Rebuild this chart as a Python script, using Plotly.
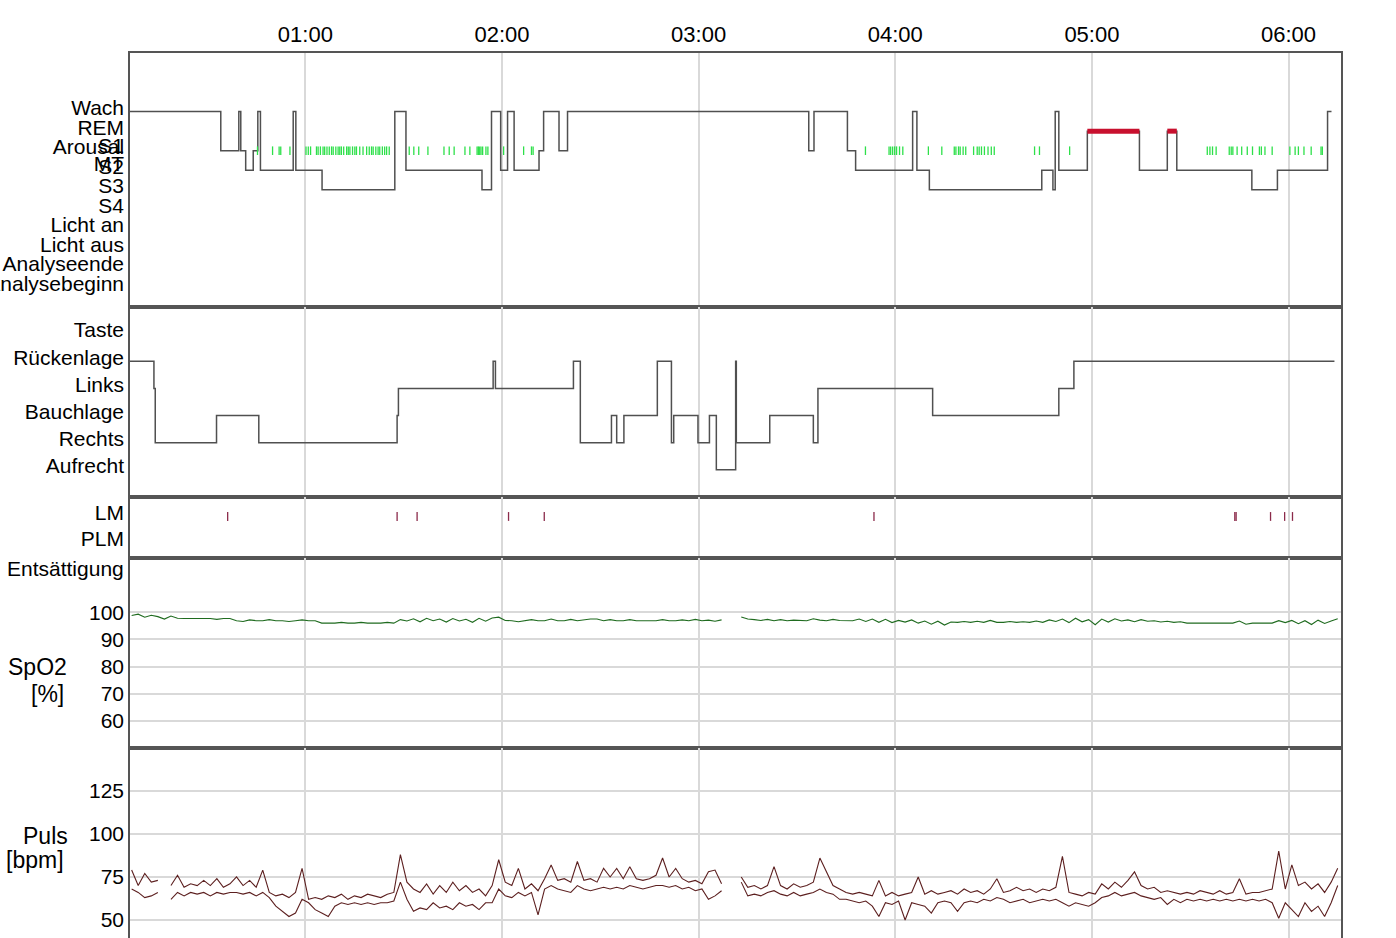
import plotly.graph_objects as go
from plotly.subplots import make_subplots

FONT = "Liberation Sans, Arial, sans-serif"

# ---------------- data (times in minutes after 00:00) ----------------
x_range = [6.5, 376.0]
hour_ticks = [60, 120, 180, 240, 300, 360]
hour_labels = ["01:00", "02:00", "03:00", "04:00", "05:00", "06:00"]

# Hypnogram (transition times and stages)
hyp_t = [6.5, 34.2, 39.7, 40.3, 41.8, 44.1, 45.5, 46.3, 56.3, 57.1, 65.1, 87.3, 90.7,
         113.9, 116.8, 119.6, 121.7, 123.7, 131.3, 132.7, 137.4, 140.0, 213.6, 215.2,
         225.4, 227.9, 245.3, 246.6, 250.4, 284.7, 288.1, 288.8, 289.9, 298.6, 314.5,
         323.0, 325.9, 348.8, 356.6, 371.9, 373.1]
hyp_stage = ["Wach", "S1", "Wach", "S1", "S2", "S1", "Wach", "S2", "Wach", "S2", "S3", "Wach", "S2",
             "S3", "Wach", "S2", "Wach", "S2", "S1", "Wach", "S1", "Wach", "S1", "Wach",
             "S1", "S2", "Wach", "S2", "S3", "S2", "S3", "Wach", "S2", "REM", "S2",
             "REM", "S2", "S3", "S2", "Wach", "Wach"]
hyp_categories = ["Wach", "REM", "S1", "Arousal", "S2", "MT", "S3", "S4",
                  "Licht an", "Licht aus", "Analyseende", "Analysebeginn"]

arousal_t = [45.4, 50.0, 52.0, 52.5, 55.3, 60.2, 60.9, 61.6, 63.4, 63.9, 64.6, 65.4, 65.9,
             66.6, 67.3, 68.0, 68.5, 69.3, 70.0, 70.5, 71.0, 71.7, 72.6, 73.1, 73.6, 74.4,
             75.1, 75.6, 76.6, 77.6, 78.7, 79.5, 80.2, 80.7, 81.5, 82.2, 82.7, 83.5, 84.2,
             84.8, 85.6, 91.7, 93.1, 94.6, 97.4, 102.3, 103.9, 105.4, 108.7, 110.2, 112.4,
             112.8, 113.2, 113.6, 114.1, 115.1, 115.7, 120.5, 126.6, 129.0, 129.5, 230.9,
             238.1, 238.6, 239.2, 239.8, 240.4, 241.3, 242.3, 250.1, 254.2, 258.0, 258.5,
             259.3, 259.8, 260.7, 261.5, 263.9, 265.0, 265.6, 266.3, 267.2, 268.3, 269.3,
             270.2, 282.5, 284.0, 293.2, 335.2, 336.0, 336.8, 337.9, 341.9, 342.5, 343.0,
             344.3, 345.7, 347.4, 349.0, 351.1, 351.7, 352.8, 355.0, 360.4, 362.0, 363.0,
             364.7, 366.9, 369.9, 370.3]

# Body position
pos_t = [6.5, 13.8, 14.2, 32.9, 45.8, 88.0, 88.4, 117.3, 118.0, 141.8, 143.9, 153.4, 155.0,
         157.2, 167.4, 171.7, 172.4, 179.8, 183.3, 185.4, 191.3, 191.5, 201.7, 215.0, 216.4,
         251.4, 289.9, 294.5, 374.0]
pos_stage = ["Rückenlage", "Links", "Rechts", "Bauchlage", "Rechts", "Bauchlage", "Links",
             "Rückenlage", "Links", "Rückenlage", "Rechts", "Bauchlage", "Rechts", "Bauchlage",
             "Rückenlage", "Rechts", "Bauchlage", "Rechts", "Bauchlage", "Aufrecht",
             "Rückenlage", "Rechts", "Bauchlage", "Rechts", "Links", "Bauchlage", "Links",
             "Rückenlage", "Rückenlage"]
pos_categories = ["Taste", "Rückenlage", "Links", "Bauchlage", "Rechts", "Aufrecht"]

# Leg movements
lm_t = [36.3, 88.0, 94.1, 122.0, 132.9, 233.5, 343.6, 344.0, 354.5, 358.8, 361.2]
lm_categories = ["LM", "PLM"]

# SpO2 and pulse sampled every 2 minutes from 00:07 to 06:15
sample_t = list(range(7, 376, 2))
spo2 = [98.8, 99.3, 98.2, 98.9, 98.4, 97.5, 98.6, 97.8, 97.7, 97.7,
        97.8, 97.7, 97.7, 97.4, 97.7, 97.7, 96.9, 96.6, 97.2, 96.9,
        96.9, 97.3, 96.9, 96.9, 96.6, 96.9, 97.2, 96.9, 96.9, 96.0,
        96.0, 96.0, 96.3, 96.0, 96.0, 96.3, 96.0, 96.0, 96.0, 96.3,
        96.0, 97.3, 96.8, 97.6, 96.5, 97.8, 96.9, 97.5, 96.4, 97.7,
        96.8, 97.4, 96.3, 97.8, 96.7, 97.9, 98.2, 97.0, 96.9, 96.5,
        96.9, 97.3, 96.9, 96.9, 97.5, 96.9, 96.9, 97.4, 96.9, 97.2,
        97.5, 97.5, 96.9, 97.3, 96.9, 96.9, 97.3, 96.9, 96.9, 97.1,
        96.9, 97.3, 96.9, 96.9, 97.2, 96.9, 97.4, 96.9, 97.1, 96.7,
        97.2, None, None, 98.3, 97.5, 97.3, 97.0, 97.4, 96.9, 97.3,
        96.9, 97.1, 96.9, 96.9, 97.6, 97.1, 96.9, 97.4, 97.0, 96.9,
        96.9, 97.5, 96.6, 97.5, 96.3, 97.4, 96.2, 97.0, 96.4, 97.2,
        96.0, 96.8, 95.6, 96.7, 95.3, 96.4, 96.3, 96.6, 96.3, 96.7,
        96.3, 97.0, 96.3, 96.3, 96.6, 96.3, 96.5, 96.3, 96.8, 96.3,
        97.2, 96.6, 97.5, 96.2, 97.8, 96.5, 97.3, 95.4, 97.5, 96.4,
        97.6, 96.8, 97.2, 96.5, 97.3, 96.7, 96.9, 96.4, 96.7, 96.3,
        96.5, 96.0, 96.0, 96.0, 96.0, 96.0, 96.0, 96.0, 96.0, 96.8,
        95.6, 96.0, 96.0, 96.0, 96.0, 96.9, 96.2, 97.0, 95.8, 96.9,
        95.5, 97.1, 95.9, 96.8, 97.6]
pulse_hi = [79, 70, 77, 72, 73, None, 70, 76, 69, 71,
            70, 73, 70, 74, 69, 71, 75, 70, 73, 69,
            79, 66, 64, 65, 63, 66, 80, 62, 63, 62,
            64, 63, 65, 62, 64, 63, 65, 64, 63, 65,
            66, 88, 72, 68, 66, 71, 65, 70, 66, 72,
            67, 70, 66, 68, 64, 70, 85, 72, 70, 80,
            68, 71, 67, 74, 82, 73, 74, 72, 84, 73,
            74, 72, 80, 75, 80, 74, 81, 74, 73, 74,
            76, 86, 75, 80, 74, 72, 73, 71, 78, 79,
            71, None, None, 75, 69, 70, 68, 70, 81, 70,
            68, 71, 69, 70, 72, 86, 78, 70, 68, 66,
            65, 66, 65, 64, 73, 64, 66, 64, 65, 66,
            75, 65, 67, 65, 66, 67, 65, 68, 66, 67,
            65, 68, 74, 66, 67, 69, 67, 68, 66, 68,
            67, 69, 87, 66, 65, 64, 66, 65, 71, 68,
            72, 69, 73, 78, 70, 68, 69, 66, 67, 66,
            65, 66, 65, 67, 66, 65, 67, 65, 66, 74,
            65, 66, 66, 67, 68, 90, 68, 82, 70, 72,
            68, 71, 66, 72, 80]
pulse_lo = [68, 66, 63, 64, 66, None, 62, 66, 64, 66,
            65, 66, 64, 66, 65, 66, 66, 65, 66, 64,
            66, 63, 58, 55, 52, 54, 62, 60, 56, 54,
            52, 58, 60, 59, 60, 59, 60, 59, 60, 60,
            61, 72, 62, 55, 57, 56, 60, 57, 58, 56,
            60, 58, 59, 56, 60, 60, 68, 64, 63, 66,
            64, 66, 53, 68, 70, 68, 67, 66, 70, 68,
            67, 68, 69, 68, 69, 68, 70, 69, 68, 69,
            70, 70, 69, 70, 68, 69, 67, 68, 62, 64,
            67, None, None, 72, 64, 65, 64, 66, 67, 65,
            64, 66, 64, 65, 66, 68, 66, 65, 62, 62,
            61, 60, 61, 58, 52, 60, 59, 61, 50, 60,
            59, 58, 54, 60, 61, 60, 55, 60, 61, 60,
            62, 61, 63, 62, 60, 61, 62, 60, 61, 62,
            61, 62, 60, 58, 60, 59, 58, 60, 63, 64,
            66, 64, 65, 66, 64, 63, 62, 63, 59, 62,
            60, 62, 61, 62, 61, 62, 61, 62, 61, 62,
            61, 62, 61, 62, 60, 51, 60, 56, 52, 60,
            55, 58, 52, 60, 70]

# ---------------- mapping categories to axis levels ----------------
hyp_level = {"Wach": 10, "REM": 9, "S1": 8.08, "Arousal": 8, "S2": 7, "MT": 7.12, "S3": 6,
             "S4": 5, "Licht an": 4, "Licht aus": 3, "Analyseende": 2, "Analysebeginn": 1}
pos_level = {c: 6 - i for i, c in enumerate(pos_categories)}
lm_level = {"LM": 2, "PLM": 1}

LINE = "#505050"
GRID = "#d9d9d9"
BORDER = "#555555"

fig = make_subplots(rows=5, cols=1, shared_xaxes=True, vertical_spacing=0,
                    row_heights=[254, 190, 61, 190, 190])

# Hypnogram
fig.add_trace(go.Scatter(x=hyp_t, y=[round(hyp_level[s]) for s in hyp_stage], mode="lines",
                         line=dict(color=LINE, width=1.5, shape="hv")), row=1, col=1)
rx, ry = [], []
for i, s in enumerate(hyp_stage[:-1]):
    if s == "REM":
        rx += [hyp_t[i], hyp_t[i + 1], None]
        ry += [hyp_level["REM"], hyp_level["REM"], None]
fig.add_trace(go.Scatter(x=rx, y=ry, mode="lines", line=dict(color="#c8102e", width=5)),
              row=1, col=1)
ax, ay = [], []
for t in arousal_t:
    ax += [t, t, None]
    ay += [hyp_level["Arousal"] - 0.22, hyp_level["Arousal"] + 0.22, None]
fig.add_trace(go.Scatter(x=ax, y=ay, mode="lines", line=dict(color="#2ee04a", width=1.3)),
              row=1, col=1)

# Position
fig.add_trace(go.Scatter(x=pos_t, y=[pos_level[s] for s in pos_stage], mode="lines",
                         line=dict(color=LINE, width=1.5, shape="hv")), row=2, col=1)

# LM
lx, ly = [], []
for t in lm_t:
    lx += [t, t, None]
    ly += [lm_level["LM"] - 0.32, lm_level["LM"] + 0.02, None]
fig.add_trace(go.Scatter(x=lx, y=ly, mode="lines", line=dict(color="#8b2a4a", width=1.3)),
              row=3, col=1)

# SpO2
fig.add_trace(go.Scatter(x=sample_t, y=spo2, mode="lines",
                         line=dict(color="#1f6b1f", width=1.1)), row=4, col=1)

# Pulse
fig.add_trace(go.Scatter(x=sample_t, y=pulse_hi, mode="lines",
                         line=dict(color="#5c1f1f", width=1.1)), row=5, col=1)
fig.add_trace(go.Scatter(x=sample_t, y=pulse_lo, mode="lines",
                         line=dict(color="#5c1f1f", width=1.1)), row=5, col=1)

# ---------------- axes ----------------
tickfont = dict(family=FONT, size=21, color="#000000")
for r in range(1, 6):
    fig.update_xaxes(range=x_range, tickmode="array", tickvals=hour_ticks, ticktext=hour_labels,
                     showgrid=True, gridcolor=GRID, gridwidth=1.5, zeroline=False,
                     showline=True, mirror=True, linecolor=BORDER, linewidth=1.5,
                     ticks="", showticklabels=False, tickfont=tickfont, automargin=False,
                     row=r, col=1)
fig.update_xaxes(showticklabels=True, side="top", tickfont=dict(family=FONT, size=22, color="#000000"),
                 row=1, col=1)

common_y = dict(showline=True, mirror=True, linecolor=BORDER, linewidth=1.5, zeroline=False,
                ticks="", tickfont=tickfont, tickmode="array", automargin=False)
fig.update_yaxes(range=[0, 13], tickvals=[hyp_level[c] + 0.2 for c in hyp_categories],
                 ticktext=hyp_categories, showgrid=False, row=1, col=1, **common_y)
fig.update_yaxes(range=[0, 7], tickvals=[pos_level[c] + 0.15 for c in pos_categories],
                 ticktext=pos_categories, showgrid=False, row=2, col=1, **common_y)
fig.update_yaxes(range=[0.25, 2.6], tickvals=[lm_level[c] for c in lm_categories],
                 ticktext=lm_categories, showgrid=False, row=3, col=1, **common_y)
fig.update_yaxes(range=[50, 120], tickvals=[60, 70, 80, 90, 100],
                 ticktext=["60", "70", "80", "90", "100"], showgrid=True, gridcolor=GRID,
                 gridwidth=1.5, row=4, col=1, **common_y)
fig.update_yaxes(range=[39.5, 150], tickvals=[50, 75, 100, 125],
                 ticktext=["50", "75", "100", "125"], showgrid=True, gridcolor=GRID,
                 gridwidth=1.5, row=5, col=1, **common_y)

# ---------------- labels ----------------
big = dict(family=FONT, size=23, color="#000000")
fig.add_annotation(text="Entsättigung", xref="paper", x=0, xanchor="right", xshift=-4,
                   yref="y4", y=116, showarrow=False, font=tickfont)
fig.add_annotation(text="SpO2", xref="paper", x=-0.076, xanchor="center", yref="y4", y=80,
                   showarrow=False, font=big)
fig.add_annotation(text="[%]", xref="paper", x=-0.0685, xanchor="center", yref="y4", y=70,
                   showarrow=False, font=big)
fig.add_annotation(text="Puls", xref="paper", x=-0.070, xanchor="center", yref="y5", y=99,
                   showarrow=False, font=big)
fig.add_annotation(text="[bpm]", xref="paper", x=-0.0784, xanchor="center", yref="y5", y=85,
                   showarrow=False, font=big)

fig.update_layout(width=1396, height=938, showlegend=False,
                  margin=dict(l=130, r=55, t=53, b=0),
                  paper_bgcolor="white", plot_bgcolor="white")

# remove the default page margin so the figure sits at the window's top-left corner
fig.write_html("out.html", config={"displayModeBar": False},
               post_script="document.body.style.margin='0';document.body.style.overflow='hidden';")
